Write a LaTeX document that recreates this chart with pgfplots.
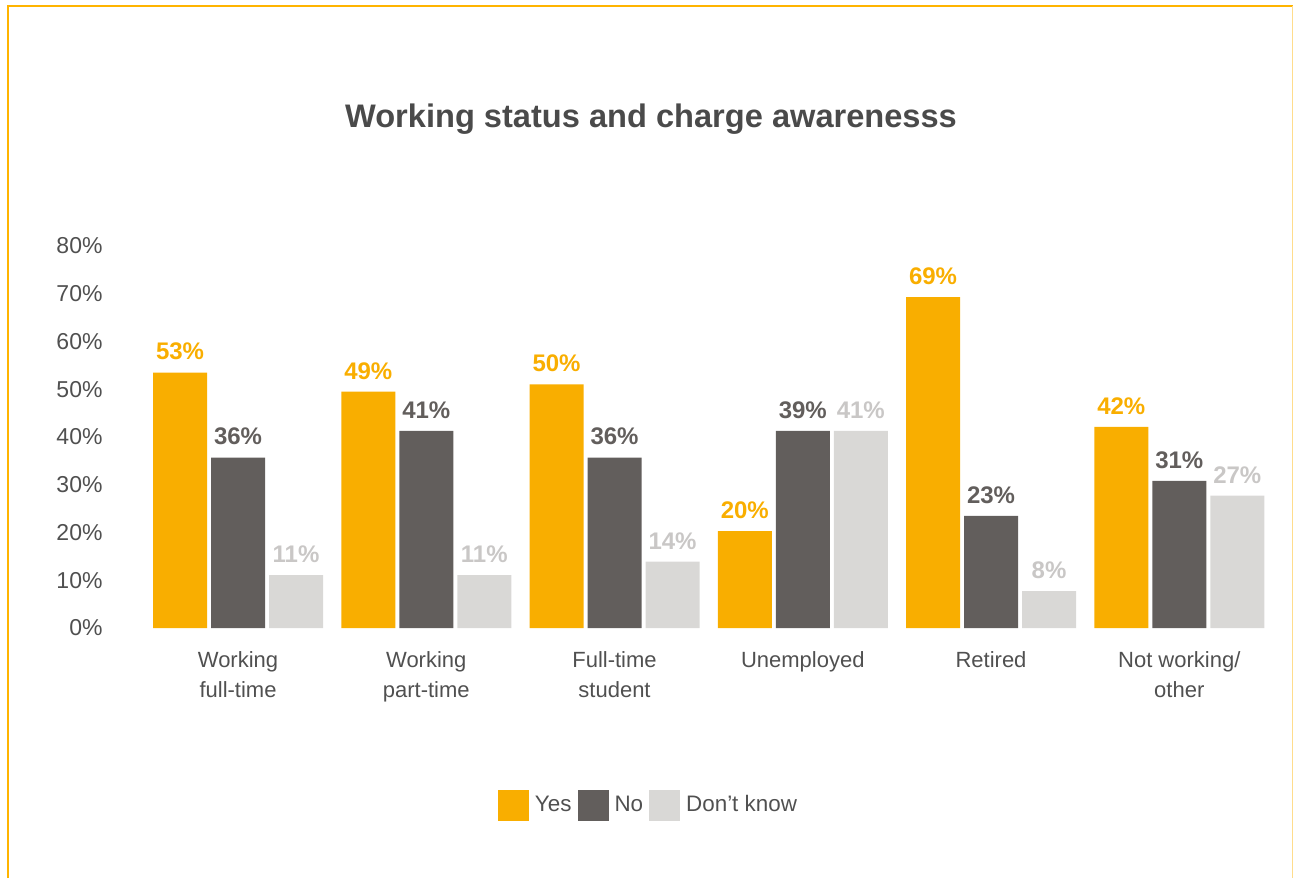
\documentclass[border=0pt]{standalone}
\usepackage{pgfplots}
\pgfplotsset{compat=1.18}
\usepackage{fontspec}
\setmainfont{Liberation Sans}
\definecolor{cyes}{HTML}{F9AE00}
\definecolor{cno}{HTML}{625E5C}
\definecolor{cdk}{HTML}{D9D8D6}
\definecolor{cdklab}{HTML}{C9C7C6}
\definecolor{ctitle}{HTML}{4A4A4A}
\definecolor{ctick}{HTML}{505050}
\definecolor{cframe}{HTML}{FFB400}
\begin{document}
\begin{tikzpicture}
\begin{scope}[x=0.5pt,y=-0.5pt,shift={(-71.95pt,314pt)}]
\useasboundingbox (0,0) rectangle (1293,878);
\draw[cframe, line width=1pt] (8,878) -- (8,6) -- (1293,6);
\draw[cframe!45, line width=0.4pt] (1292.3,6) -- (1292.3,878);
\node[anchor=base, font=\fontsize{16.3}{20}\selectfont\bfseries, text=ctitle, inner sep=0pt] at (651,128) {Working status and charge awarenesss};
\end{scope}
\begin{axis}[
  at={(0,0)}, anchor=south west,
  scale only axis, width=564.75pt, height=191pt,
  xmin=-0.5, xmax=5.5, ymin=0, ymax=80,
  clip=false,
  axis line style={draw=none}, major tick length=0pt,
  /pgf/number format/assume math mode=true,
  ytick={0,10,...,80},
  yticklabel={\pgfmathprintnumber{\tick}\%},
  yticklabel style={anchor=east, inner sep=0pt, xshift=-20.5pt, font=\fontsize{11.5}{14}\selectfont, text=ctick},
  xtick={0,1,2,3,4,5},
  xticklabels={{Working\\full-time},{Working\\part-time},{Full-time\\student},{Unemployed},{Retired},{Not working/\\other}},
  xticklabel style={align=center, anchor=north, inner sep=0pt, yshift=-11.5pt, font=\fontsize{11}{15}\selectfont, text=ctick},
  ybar=2pt, bar width=27pt,
  point meta=explicit symbolic,
  nodes near coords={\pgfplotspointmeta\%},
  every node near coord/.append style={anchor=south, inner sep=0pt, yshift=6pt, font=\fontsize{12}{14}\selectfont\bfseries},
  legend columns=3,
  legend style={draw=none, fill=none, at={(0.4485,-0.4634)}, anchor=center,
    font=\fontsize{11.2}{13}\selectfont, text=ctick,
    nodes={inner xsep=3pt},
    /tikz/every even column/.append style={column sep=0pt}},
]
\addplot[fill=cyes, draw=none, every node near coord/.append style={text=cyes},
  legend image code/.code={\fill[cyes] (0pt,-7.75pt) rectangle (15.5pt,7.75pt);}]
  coordinates {(0,53.5)[53] (1,49.5)[49] (2,51.0)[50] (3,20.3)[20] (4,69.3)[69] (5,42.1)[42]};
\addlegendentry{Yes}
\addplot[fill=cno, draw=none, every node near coord/.append style={text=cno},
  legend image code/.code={\fill[cno] (0pt,-7.75pt) rectangle (15.5pt,7.75pt);}]
  coordinates {(0,35.7)[36] (1,41.3)[41] (2,35.7)[36] (3,41.3)[39] (4,23.5)[23] (5,30.8)[31]};
\addlegendentry{No}
\addplot[fill=cdk, draw=none, every node near coord/.append style={text=cdklab},
  legend image code/.code={\fill[cdk] (0pt,-7.75pt) rectangle (15.5pt,7.75pt);}]
  coordinates {(0,11.1)[11] (1,11.1)[11] (2,13.9)[14] (3,41.3)[41] (4,7.7)[8] (5,27.7)[27]};
\addlegendentry{Don’t know}
\end{axis}
\end{tikzpicture}
\end{document}
